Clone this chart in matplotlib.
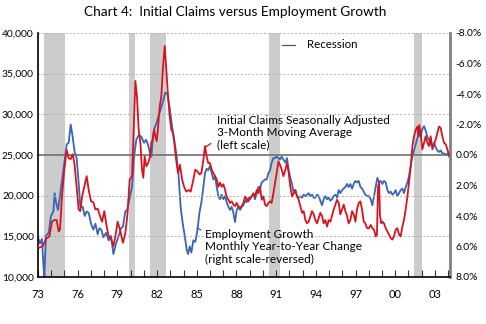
import numpy as np
import matplotlib
matplotlib.use('Agg')
import matplotlib.pyplot as plt
from matplotlib.ticker import FixedLocator, MultipleLocator

plt.rcParams['font.family'] = ['Lato', 'DejaVu Sans']

# 初请失业金（3个月移动平均，左轴）
claims_year = [
    1973.00, 1973.10, 1973.35, 1973.61, 1973.86, 1974.06, 1974.23, 1974.41, 1974.56, 1974.66,
    1974.81, 1974.99, 1975.17, 1975.32, 1975.47, 1975.62, 1975.75, 1975.92, 1976.07, 1976.20,
    1976.33, 1976.50, 1976.68, 1976.83, 1977.01, 1977.18, 1977.34, 1977.51, 1977.69, 1977.84,
    1978.01, 1978.19, 1978.34, 1978.52, 1978.70, 1978.85, 1979.02, 1979.20, 1979.42, 1979.60,
    1979.75, 1979.93, 1980.11, 1980.23, 1980.36, 1980.48, 1980.61, 1980.74, 1980.86, 1980.96,
    1981.06, 1981.19, 1981.32, 1981.47, 1981.57, 1981.67, 1981.77, 1981.87, 1981.97, 1982.07,
    1982.20, 1982.32, 1982.45, 1982.58, 1982.70, 1982.83, 1982.95, 1983.08, 1983.21, 1983.33,
    1983.46, 1983.58, 1983.73, 1983.89, 1984.04, 1984.21, 1984.39, 1984.54, 1984.72, 1984.89,
    1985.04, 1985.22, 1985.35, 1985.50, 1985.62, 1985.75, 1985.87, 1986.00, 1986.13, 1986.25,
    1986.38, 1986.51, 1986.63, 1986.76, 1986.88, 1987.01, 1987.14, 1987.26, 1987.39, 1987.51,
    1987.64, 1987.77, 1987.89, 1988.02, 1988.14, 1988.27, 1988.40, 1988.52, 1988.65, 1988.77,
    1988.90, 1989.03, 1989.15, 1989.28, 1989.40, 1989.53, 1989.66, 1989.78, 1989.91, 1990.03,
    1990.16, 1990.29, 1990.41, 1990.54, 1990.66, 1990.79, 1990.92, 1991.04, 1991.17, 1991.29,
    1991.42, 1991.55, 1991.70, 1991.82, 1991.95, 1992.07, 1992.20, 1992.33, 1992.45, 1992.58,
    1992.70, 1992.83, 1992.96, 1993.08, 1993.21, 1993.33, 1993.46, 1993.59, 1993.71, 1993.84,
    1993.96, 1994.09, 1994.22, 1994.34, 1994.47, 1994.59, 1994.72, 1994.85, 1994.97, 1995.10,
    1995.22, 1995.35, 1995.48, 1995.60, 1995.73, 1995.85, 1995.98, 1996.11, 1996.23, 1996.36,
    1996.48, 1996.61, 1996.74, 1996.86, 1996.99, 1997.11, 1997.24, 1997.37, 1997.49, 1997.62,
    1997.74, 1997.87, 1998.02, 1998.15, 1998.27, 1998.40, 1998.52, 1998.62, 1998.70, 1998.78,
    1998.85, 1998.95, 1999.03, 1999.15, 1999.28, 1999.41, 1999.53, 1999.66, 1999.78, 1999.91,
    2000.03, 2000.16, 2000.29, 2000.41, 2000.54, 2000.66, 2000.79, 2000.92, 2001.04, 2001.17,
    2001.30, 2001.42, 2001.55, 2001.67, 2001.75, 2001.82, 2001.92, 2002.05, 2002.18, 2002.30,
    2002.43, 2002.55, 2002.68, 2002.81, 2002.93, 2003.06, 2003.18, 2003.31, 2003.44, 2003.56,
    2003.69, 2003.82, 2003.94, 2004.07,
]
claims = [
    13700, 13600, 13800, 14700, 15000, 16800, 17000, 17000, 15600, 15800,
    19900, 23200, 25600, 24600, 24500, 25100, 24000, 21100, 18300, 18100,
    19900, 21100, 22400, 20700, 19300, 19200, 18300, 18400, 17500, 16800,
    18100, 16200, 15000, 14700, 13800, 15000, 16800, 15800, 14200, 15400,
    17500, 22000, 22400, 28100, 34100, 32200, 28100, 26500, 23200, 22200,
    24800, 23600, 24000, 24800, 26500, 26900, 28100, 27300, 26700, 28300,
    31000, 32200, 35900, 38400, 35500, 32200, 29800, 28100, 27700, 26100,
    24200, 22800, 23800, 22000, 21100, 20500, 20700, 20500, 21800, 23200,
    23000, 22600, 22800, 24400, 26100, 24800, 24000, 24000, 23200, 22800,
    22400, 22000, 21100, 21600, 21100, 21400, 20700, 19900, 19500, 19100,
    19300, 18900, 18700, 19100, 18700, 18500, 18700, 19100, 19900, 19500,
    19300, 19700, 19900, 20300, 19900, 20700, 20300, 21100, 19500, 19900,
    18900, 18700, 19100, 19300, 19100, 20300, 21600, 22800, 24200, 23800,
    23200, 22400, 23200, 24000, 22800, 21100, 19900, 20300, 20700, 19900,
    19500, 18700, 17900, 18100, 17000, 16600, 16800, 17500, 18100, 17700,
    17000, 16600, 17300, 17900, 17500, 16600, 17000, 16200, 17000, 16800,
    17500, 18300, 18900, 19500, 19100, 17700, 18300, 18900, 18100, 17500,
    16600, 17000, 18100, 17700, 16800, 18300, 19100, 19300, 18300, 16800,
    16600, 16000, 16000, 16400, 16000, 15800, 15000, 15200, 21100, 21600,
    17500, 16600, 16800, 16600, 16000, 15600, 15200, 14800, 14600, 15000,
    15800, 16000, 15200, 15000, 16200, 17000, 18300, 19900, 21600, 23600,
    26100, 27300, 28100, 28500, 27300, 28700, 27700, 25700, 26500, 27300,
    26500, 26100, 27300, 25700, 26300, 26900, 27700, 28500, 28300, 27300,
    26500, 26300, 25700, 25000,
]

# 就业增长（同比，右轴反向）
emp_year = [
    1973.00, 1973.15, 1973.30, 1973.40, 1973.48, 1973.60, 1973.81, 1973.98, 1974.16, 1974.26,
    1974.36, 1974.51, 1974.66, 1974.81, 1974.99, 1975.17, 1975.32, 1975.47, 1975.62, 1975.77,
    1975.92, 1976.07, 1976.20, 1976.38, 1976.53, 1976.68, 1976.83, 1977.01, 1977.18, 1977.34,
    1977.51, 1977.64, 1977.79, 1977.94, 1978.14, 1978.34, 1978.52, 1978.70, 1978.90, 1979.10,
    1979.27, 1979.42, 1979.60, 1979.75, 1979.93, 1980.11, 1980.26, 1980.43, 1980.61, 1980.81,
    1981.01, 1981.16, 1981.31, 1981.47, 1981.57, 1981.69, 1981.82, 1981.97, 1982.12, 1982.27,
    1982.45, 1982.62, 1982.78, 1982.95, 1983.13, 1983.33, 1983.48, 1983.63, 1983.78, 1983.94,
    1984.09, 1984.24, 1984.34, 1984.47, 1984.59, 1984.74, 1984.89, 1985.04, 1985.20, 1985.35,
    1985.50, 1985.62, 1985.75, 1985.87, 1986.00, 1986.13, 1986.25, 1986.38, 1986.51, 1986.63,
    1986.76, 1986.88, 1987.01, 1987.14, 1987.26, 1987.39, 1987.51, 1987.64, 1987.77, 1987.89,
    1988.02, 1988.14, 1988.27, 1988.40, 1988.52, 1988.65, 1988.77, 1988.90, 1989.03, 1989.15,
    1989.28, 1989.40, 1989.53, 1989.66, 1989.78, 1989.91, 1990.03, 1990.16, 1990.29, 1990.41,
    1990.54, 1990.66, 1990.79, 1990.92, 1991.04, 1991.17, 1991.29, 1991.42, 1991.55, 1991.70,
    1991.82, 1991.95, 1992.07, 1992.20, 1992.33, 1992.45, 1992.58, 1992.70, 1992.83, 1992.96,
    1993.08, 1993.21, 1993.33, 1993.46, 1993.59, 1993.71, 1993.84, 1993.96, 1994.09, 1994.22,
    1994.34, 1994.47, 1994.59, 1994.72, 1994.85, 1994.97, 1995.10, 1995.22, 1995.35, 1995.48,
    1995.60, 1995.73, 1995.85, 1995.98, 1996.11, 1996.23, 1996.36, 1996.48, 1996.61, 1996.74,
    1996.86, 1996.99, 1997.11, 1997.24, 1997.37, 1997.49, 1997.62, 1997.74, 1997.87, 1998.02,
    1998.15, 1998.27, 1998.40, 1998.52, 1998.65, 1998.78, 1998.90, 1999.03, 1999.15, 1999.28,
    1999.41, 1999.53, 1999.66, 1999.78, 1999.91, 2000.03, 2000.16, 2000.29, 2000.41, 2000.54,
    2000.66, 2000.79, 2000.92, 2001.04, 2001.17, 2001.30, 2001.42, 2001.55, 2001.67, 2001.80,
    2001.92, 2002.05, 2002.18, 2002.30, 2002.43, 2002.55, 2002.68, 2002.81, 2002.93, 2003.06,
    2003.18, 2003.31, 2003.44, 2003.56, 2003.69, 2003.82, 2003.94, 2004.07,
]
emp_growth = [
    5.4, 5.8, 5.5, 7.1, 8.0, 5.3, 5.1, 4.0, 3.7, 2.5,
    3.1, 3.6, 2.7, 1.7, 0.5, -0.7, -0.8, -2.0, -1.2, -0.2,
    0.2, 1.8, 3.4, 3.4, 4.0, 3.7, 3.8, 4.5, 4.9, 4.5,
    5.2, 4.8, 4.9, 5.4, 5.1, 5.6, 5.3, 6.5, 5.8, 5.3,
    4.8, 4.7, 3.7, 3.6, 2.8, 2.1, 0.1, -1.0, -1.3, -1.2,
    -0.8, -1.0, -0.7, -0.1, 0.1, -1.2, -1.8, -2.1, -2.6, -3.0,
    -3.5, -4.1, -4.0, -3.1, -1.9, -0.8, 0.1, 1.4, 3.4, 4.5,
    5.3, 6.2, 6.5, 6.0, 6.4, 5.6, 5.7, 5.0, 3.8, 3.1,
    2.1, 1.2, 0.9, 1.0, 0.7, 1.2, 1.6, 1.4, 2.1, 2.7,
    2.9, 2.6, 2.9, 2.7, 3.1, 3.4, 3.6, 3.4, 3.8, 4.4,
    3.6, 3.4, 3.6, 3.4, 3.3, 3.0, 3.1, 2.8, 2.9, 2.7,
    2.6, 2.9, 2.5, 2.1, 2.2, 1.8, 1.7, 1.6, 1.6, 1.2,
    1.0, 0.5, 0.2, 0.2, 0.1, 0.2, 0.3, 0.1, 0.3, 0.5,
    0.2, 1.0, 1.5, 1.9, 2.5, 2.3, 2.7, 2.8, 2.7, 2.8,
    2.6, 2.7, 2.6, 2.5, 2.7, 2.6, 2.8, 2.8, 2.6, 2.7,
    3.0, 3.3, 2.9, 2.7, 2.9, 2.8, 3.0, 2.9, 2.7, 2.6,
    2.8, 2.3, 2.5, 2.3, 2.2, 2.1, 1.9, 2.1, 1.9, 2.2,
    1.9, 1.7, 1.8, 1.7, 2.1, 2.2, 2.4, 2.6, 2.7, 2.7,
    2.9, 3.3, 2.7, 2.1, 1.5, 1.8, 1.7, 1.9, 1.7, 1.8,
    2.3, 2.5, 2.4, 2.6, 2.5, 2.3, 2.7, 2.5, 2.3, 2.2,
    2.5, 2.1, 1.8, 1.4, 0.7, 0.1, -0.3, -0.7, -1.1, -1.4,
    -1.2, -1.7, -1.9, -1.6, -1.2, -1.0, -0.7, -0.6, -0.8, -0.5,
    -0.3, -0.2, -0.3, -0.1, -0.1, 0.0, -0.1, 0.1,
]

# 衰退期（阴影）
recession_start = [1973.45, 1979.88, 1981.47, 1990.46, 2001.44]
recession_end = [1975.02, 1980.30, 1982.67, 1991.29, 2001.99]

left_ticks = [10000, 15000, 20000, 25000, 30000, 35000, 40000]
right_ticks = [-8, -6, -4, -2, 0, 2, 4, 6, 8]
year_ticks = [1973, 1976, 1979, 1982, 1985, 1988, 1991, 1994, 1997, 2000, 2003]
year_labels = ['73', '76', '79', '82', '85', '88', '91', '94', '97', '00', '03']

red = '#d7141e'
blue = '#3a64b4'

fig = plt.figure(figsize=(4.86, 3.24), dpi=100)
ax = fig.add_axes([38 / 486, 47 / 324, 412 / 486, 244 / 324])
ax2 = ax.twinx()
ax.set_zorder(ax2.get_zorder() + 1)
ax.patch.set_visible(False)

for s, e in zip(recession_start, recession_end):
    ax2.axvspan(s, e, color='#cccccc', lw=0, zorder=0)

ax2.plot(emp_year, emp_growth, color=blue, lw=1.3, zorder=2)
ax.plot(claims_year, claims, color=red, lw=1.3, zorder=3)

ax.set_xlim(1973.0, 2004.14)
ax.set_ylim(10000, 40000)
ax2.set_ylim(8, -8)

for v in [15000, 20000, 30000, 35000, 40000]:
    ax.axhline(v, color='#b0b0b0', lw=0.7, ls=(0, (2, 2)), zorder=1)
ax.axhline(25000, color='#707070', lw=1.2, zorder=1)

ax.yaxis.set_major_locator(FixedLocator(left_ticks))
ax.set_yticklabels([f'{v:,}' for v in left_ticks])
ax2.yaxis.set_major_locator(FixedLocator(right_ticks))
ax2.set_yticklabels([f'{v:.1f}%' for v in right_ticks])

ax.xaxis.set_major_locator(FixedLocator(year_ticks))
ax.set_xticklabels(year_labels)
ax.xaxis.set_minor_locator(MultipleLocator(1))

ax.tick_params(axis='x', which='both', direction='in', length=5, width=0.8, color='#333333',
               labelsize=8, pad=9)
ax.tick_params(axis='y', length=0, labelsize=7.4, pad=3)
ax2.tick_params(axis='y', length=0, labelsize=7.4, pad=4)

for a in (ax, ax2):
    a.spines['top'].set_visible(False)
ax.spines['right'].set_visible(False)
ax2.spines['left'].set_visible(False)
ax2.spines['bottom'].set_visible(False)
ax2.spines['right'].set_color('#808080')
ax2.spines['right'].set_linewidth(2)
ax.spines['left'].set_linewidth(1.2)
ax.spines['bottom'].set_linewidth(1.2)

# 标题
fig.text(235 / 486, 1 - 12 / 324, 'Chart 4:  Initial Claims versus Employment Growth',
         ha='center', va='center', fontsize=9.8)

# 图例
ax.plot([1991.44, 1992.43], [38540, 38540], color='#555555', lw=0.9)
ax.text(1993.3, 38540, 'Recession', fontsize=8.3, va='center', ha='left')

# 注释
ax.annotate('Initial Claims Seasonally Adjusted\n3-Month Moving Average\n(left scale)',
            xy=(1985.62, 25900), xytext=(1986.53, 27710),
            fontsize=8.5, va='center', ha='left', linespacing=1.12,
            arrowprops=dict(arrowstyle='-', color=red, lw=0.9, shrinkA=3, shrinkB=0,
                            relpos=(0, 0.33)))
ax.annotate('Employment Growth\nMonthly Year-to-Year Change\n(right scale-reversed)',
            xy=(1985.02, 16030), xytext=(1985.62, 13690),
            fontsize=8.5, va='center', ha='left', linespacing=1.12,
            arrowprops=dict(arrowstyle='-', color=blue, lw=0.9, shrinkA=1, shrinkB=0,
                            relpos=(0, 0.92)))

plt.savefig('out.png', dpi=100)
